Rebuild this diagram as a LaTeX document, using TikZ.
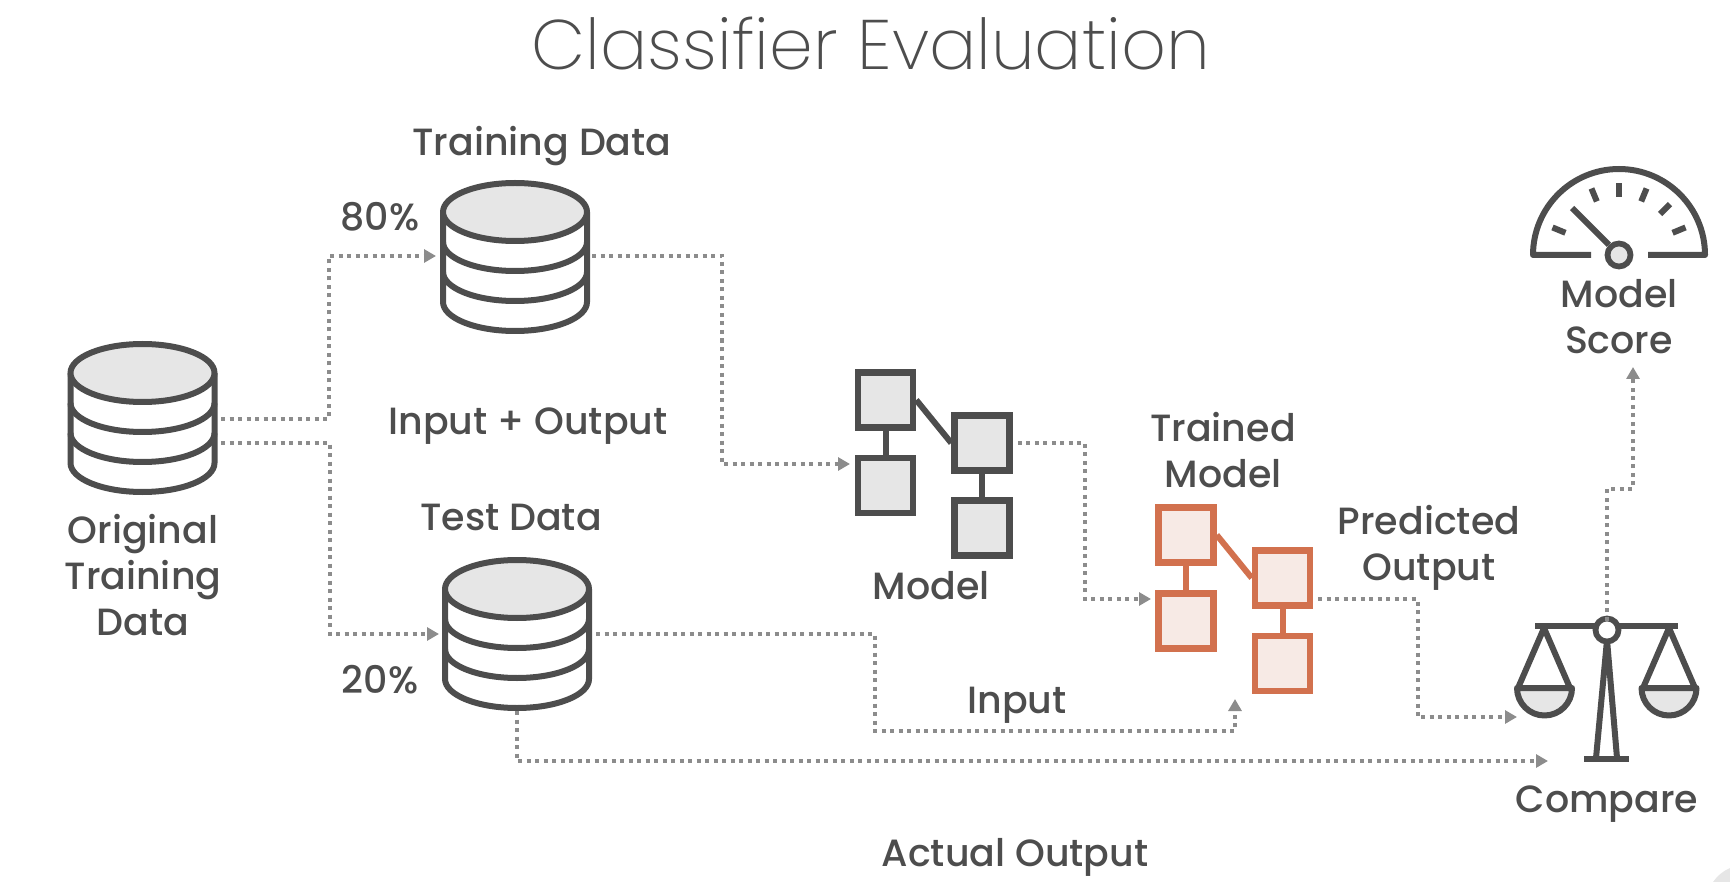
\documentclass[tikz,border=0pt]{standalone}
\usepackage{fontspec}
\setmainfont{Poppins Medium}
\newfontfamily\titlefont{Poppins ExtraLight}
\usetikzlibrary{arrows.meta}
\definecolor{iconline}{HTML}{4D4D4D}
\definecolor{iconfill}{HTML}{E6E6E6}
\definecolor{flowline}{HTML}{8C8C8C}
\definecolor{orangeline}{HTML}{D2714E}
\definecolor{orangefill}{HTML}{F7EAE5}
\tikzset{
  lbl/.style={text=iconline,font=\fontsize{21.6}{26.2}\selectfont,align=center,inner sep=0pt},
  icon/.style={draw=iconline,line width=1.2mm,line join=round},
  flow/.style={draw=flowline,line width=.8mm,dash pattern=on .8mm off .9mm,-{Triangle[length=2.4mm,width=2.6mm,fill=flowline]}},
  sq/.style={draw=iconline,fill=iconfill,line width=1.3mm,minimum size=11mm,inner sep=0pt},
  sqo/.style={draw=orangeline,fill=orangefill,line width=1.3mm,minimum size=11mm,inner sep=0pt},
  cylinder/.pic={
    \draw[icon] (-72,0) -- (-72,90) arc[start angle=180,end angle=360,x radius=72,y radius=-29] -- (72,0);
    \draw[icon] (-72,60) arc[start angle=180,end angle=360,x radius=72,y radius=-29];
    \draw[icon] (-72,30) arc[start angle=180,end angle=360,x radius=72,y radius=-29];
    \draw[icon,fill=iconfill] (0,0) ellipse[x radius=72,y radius=29];
  }
}
\begin{document}
\begin{tikzpicture}[x=.2mm,y=-.2mm]
  \useasboundingbox (0,0) rectangle (1730,882);
  \fill[iconfill] (1730,882) -- (1713,882) .. controls (1717,876) and (1723,871) .. (1730,868) -- cycle;

  \node[text=iconline,font=\fontsize{39.9}{48}\selectfont\titlefont,inner sep=0pt] (title) at (871,44) {Classifier Evaluation};

  \pic at (142.5,373) {cylinder};
  \pic at (515,212) {cylinder};
  \pic at (517,589) {cylinder};

  \node[lbl] (origlbl) at (143,575) {Original\\Training\\Data};
  \node[lbl] (trainlbl) at (542,146) {Training Data};
  \node[lbl] (pct80) at (380,217) {80\%};
  \node[lbl] (inout) at (528,426) {Input + Output};
  \node[lbl] (testlbl) at (511,517) {Test Data};
  \node[lbl] (pct20) at (380,680) {20\%};

  \node[sq] (ma) at (885.5,400) {};
  \node[sq] (mb) at (885.5,485.5) {};
  \node[sq] (mc) at (982,443) {};
  \node[sq] (md) at (982,528) {};
  \draw[icon] (ma) -- (mb);
  \draw[icon] (mc) -- (md);
  \draw[icon] (ma.east) -- (mc.west);
  \node[lbl] (modellbl) at (931,586) {Model};

  \node[sqo] (ta) at (1186,535) {};
  \node[sqo] (tb) at (1186,621) {};
  \node[sqo] (tc) at (1282.5,578) {};
  \node[sqo] (td) at (1282.5,663.5) {};
  \draw[icon,draw=orangeline] (ta) -- (tb);
  \draw[icon,draw=orangeline] (tc) -- (td);
  \draw[icon,draw=orangeline] (ta.east) -- (tc.west);
  \node[lbl] (trainedlbl) at (1223,450) {Trained\\Model};
  \node[lbl] (predlbl) at (1429,548) {Predicted\\Output};
  \node[lbl] (inlbl) at (1017,705) {Input};
  \node[lbl] (actlbl) at (1015,857) {Actual Output};

  % gauge
  \draw[icon] (1591,255) -- (1533,255) arc[start angle=180,end angle=0,x radius=86,y radius=-86] -- (1648,255);
  \foreach \a in {22.5,45,67.5,90,112.5,157.5}
    \draw[icon] (1619,255) ++(\a:58 and -58) -- ++(\a:14 and -14);
  \node[circle,draw=iconline,fill=iconfill,line width=1.15mm,minimum size=4.6mm,inner sep=0pt] (hub) at (1619,255) {};
  \draw[icon] (hub) -- (1572,208);
  \node[lbl] (scorelbl) at (1619,317) {Model\\Score};

  % scales
  \draw[icon] (1535,626) -- (1678,626);
  \draw[icon] (1518,688) -- (1544,628) -- (1570,688);
  \draw[icon] (1643,688) -- (1669,628) -- (1695,688);
  \draw[icon,fill=iconfill] (1517,688) arc[start angle=180,end angle=360,x radius=27.5,y radius=-27.5] -- cycle;
  \draw[icon,fill=iconfill] (1641.5,688) arc[start angle=180,end angle=360,x radius=27.5,y radius=-27.5] -- cycle;
  \draw[icon] (1596,758) -- (1607,640) -- (1617,758);
  \draw[icon] (1584,759) -- (1629,759);
  \node[circle,draw=iconline,fill=white,line width=1.15mm,minimum size=4.6mm,inner sep=0pt] (pivot) at (1607,630) {};
  \node[lbl] (cmplbl) at (1607,804) {Compare};

  % free ends of the connectors
  \coordinate (origup) at (221,419);
  \coordinate (origdown) at (221,443);
  \coordinate (trainin) at (436,256);
  \coordinate (trainout) at (592,256);
  \coordinate (testin) at (439,634);
  \coordinate (testout) at (596,634);
  \coordinate (testbot) at (517,711);
  \coordinate (modelin) at (850,464);
  \coordinate (tmodelin) at (1151,599);
  \coordinate (tmodelbot) at (1235,699);
  \coordinate (cmpupper) at (1517,717);
  \coordinate (cmplower) at (1548,761);
  \coordinate (scorein) at (1633,367);

  \draw[flow] (origup) -| (329,256) -- (trainin);
  \draw[flow] (origdown) -| (330,634) -- (testin);
  \draw[flow] (trainout) -| (722,464) -- (modelin);
  \draw[flow] ([xshift=1mm]mc.east) -| (1085,599) -- (tmodelin);
  \draw[flow] (1318,599) -| (1417.5,717) -- (cmpupper);
  \draw[flow] (testout) -| (875,731) -| (tmodelbot);
  \draw[flow] (testbot) |- (cmplower);
  \draw[flow] ([yshift=-1mm]pivot.north) |- (1633,489) -- (scorein);
\end{tikzpicture}
\end{document}
